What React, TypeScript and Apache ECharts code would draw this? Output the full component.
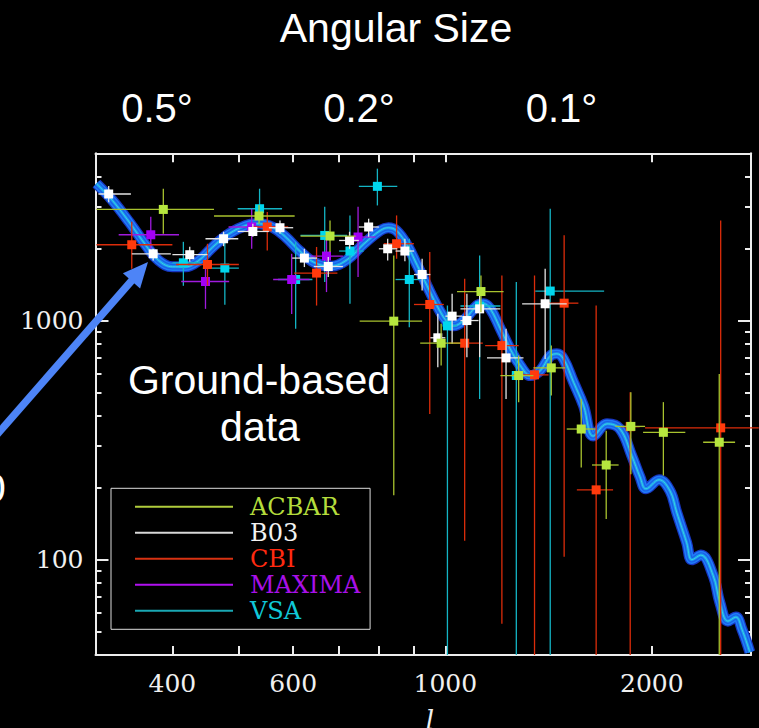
import React, { useEffect, useRef } from "react";
import * as echarts from "echarts";

// ---------- axis ranges & ticks ----------
const X_MIN = 309;
const X_MAX = 2790;
const Y_MIN = 40;
const Y_MAX = 5000;
const X_TICKS = [400, 500, 600, 700, 800, 900, 1000, 2000];
const X_LABELS = [400, 600, 1000, 2000];
const Y_MAJOR = [100, 1000];
const Y_MINOR = [50, 60, 70, 80, 90, 200, 300, 400, 500, 600, 700, 800, 900, 2000, 3000, 4000];

// ---------- theory curve ----------
const CURVE_L = [310, 327, 346, 366, 382, 400, 418, 437, 458, 484, 512, 535, 559, 585, 612, 643, 680, 719, 761, 804, 826, 849, 880, 910, 940, 972, 1006, 1028, 1063, 1112, 1137, 1163, 1203, 1243, 1286, 1330, 1375, 1422, 1454, 1487, 1538, 1590, 1643, 1721, 1798, 1870, 1922, 1961, 2049, 2126, 2174, 2248, 2288, 2358, 2458, 2513, 2582, 2652, 2706, 2779];
const CURVE_D = [3733, 3178, 2580, 2060, 1782, 1678, 1678, 1782, 2028, 2306, 2497, 2538, 2460, 2234, 1963, 1752, 1686, 1795, 2094, 2380, 2443, 2373, 2060, 1699, 1401, 1155, 985, 950, 1000, 1155, 1175, 1119, 923, 761, 648, 589, 618, 712, 726, 691, 552, 441, 329, 370, 352, 272, 222, 198, 216, 194, 158, 118, 100, 104.6, 85.7, 66.3, 55.4, 57.6, 51.3, 41.1];

// ---------- data points: [l, D, lMin, lMax, DMin, DMax] ----------
const ACBAR = [
  [388, 2913, 310, 460, 2306, 3556],
  [535, 2735, 460, 603, 2540, 3040],
  [679, 2255, 615, 740, 1932, 2620],
  [841, 994, 750, 925, 186, 1870],
  [986, 804, 919, 1052, 648, 969],
  [1127, 1322, 1040, 1216, 1084, 1543],
  [1279, 589, 1203, 1344, 455, 714],
  [1427, 634, 1344, 1496, 486, 786],
  [1578, 352, 1503, 1654, 243, 470],
  [1716, 249, 1636, 1789, 148, 346],
  [1864, 361, 1769, 1955, 228, 501],
  [2079, 341, 1942, 2238, 225, 456],
  [2508, 310, 2376, 2645, 40, 598],
];
const B03 = [
  [323, 3380, 312, 348, 3120, 3650],
  [375, 1901, 349, 398, 1782, 1995],
  [424, 1884, 400, 450, 1760, 2035],
  [475, 2197, 447, 499, 2045, 2350],
  [524, 2357, 498, 553, 2240, 2540],
  [574, 2443, 553, 600, 2304, 2620],
  [623, 1824, 598, 650, 1673, 1995],
  [675, 1682, 643, 709, 1522, 1843],
  [725, 2161, 700, 748, 1995, 2350],
  [773, 2460, 748, 800, 2240, 2664],
  [824, 1995, 800, 851, 1782, 2197],
  [873, 1952, 846, 900, 1770, 2197],
  [925, 1557, 900, 951, 1335, 1812],
  [975, 847, 951, 1000, 638, 1067],
  [1023, 1043, 1000, 1057, 799, 1294],
  [1075, 1000, 1052, 1118, 703, 1294],
  [1122, 1119, 1052, 1203, 703, 1315],
  [1226, 698, 1150, 1300, 470, 923],
  [1398, 1175, 1294, 1503, 691, 1646],
];
const CBI = [
  [349, 2074, 310, 400, 1646, 2585],
  [450, 1715, 405, 500, 1401, 2093],
  [550, 2460, 523, 590, 1960, 2840],
  [649, 1579, 602, 696, 1155, 2030],
  [849, 2094, 813, 900, 1812, 2750],
  [949, 1167, 900, 995, 407, 1935],
  [1067, 804, 1011, 1134, 120, 1495],
  [1209, 786, 1143, 1279, 54, 1543],
  [1349, 593, 1257, 1414, 40, 1543],
  [1490, 1182, 1407, 1563, 103, 2270],
  [1659, 196, 1555, 1756, 40, 1155],
  [1860, 360, 1800, 1920, 40, 501],
  [2520, 356, 1955, 2864, 40, 2620],
];
const MAXIMA = [
  [372, 2283, 334, 409, 1995, 2716],
  [447, 1456, 412, 484, 1119, 1758],
  [522, 2460, 483, 565, 1995, 2933],
  [597, 1484, 561, 634, 1066, 1901],
  [671, 1860, 636, 709, 1315, 2305],
  [746, 2234, 715, 791, 1522, 2987],
];
const VSA = [
  [415, 1743, 400, 440, 1397, 2133],
  [477, 1657, 443, 500, 1163, 2197],
  [536, 2933, 498, 578, 2497, 3556],
  [605, 1484, 570, 640, 923, 2133],
  [667, 2268, 615, 719, 1450, 2990],
  [726, 1952, 700, 760, 1174, 2750],
  [796, 3638, 748, 851, 3027, 4313],
  [886, 1484, 846, 920, 938, 2197],
  [1007, 950, 990, 1040, 40, 1155],
  [1122, 1150, 1052, 1203, 470, 1870],
  [1269, 589, 1245, 1295, 40, 1450],
  [1422, 1328, 1352, 1704, 40, 2933],
];

const LEGEND_NAMES = ["ACBAR", "B03", "CBI", "MAXIMA", "VSA"];

const STYLE: Record<string, { sq: string; bar: string; text: string; line: string }> = {
  ACBAR: { sq: "#b6e63e", bar: "#a8c22e", text: "#b4dc3c", line: "#b0cc3c" },
  B03: { sq: "#ffffff", bar: "#e4e4e4", text: "#f2f2f2", line: "#d8d8d8" },
  CBI: { sq: "#ff3a0c", bar: "#dc2c0a", text: "#ff2a10", line: "#d83212" },
  MAXIMA: { sq: "#a200f4", bar: "#a01ade", text: "#a810e8", line: "#b010f0" },
  VSA: { sq: "#00d6ee", bar: "#14b4c4", text: "#10c8d8", line: "#1aa8b4" },
};

const BAND = [
  { w: 11, c: "#1836c0" },
  { w: 8.5, c: "#1f7cf8" },
  { w: 5.5, c: "#1a60e6" },
  { w: 3, c: "#1f98f0" },
  { w: 1, c: "#36d6e2" },
];

const L10 = Math.log10;

function makeRender(sq: string, bar: string) {
  return (_params: any, api: any) => {
    const c = api.coord([api.value(0), api.value(1)]);
    const l = api.coord([api.value(2), api.value(1)]);
    const r = api.coord([api.value(3), api.value(1)]);
    const lo = api.coord([api.value(0), api.value(4)]);
    const hi = api.coord([api.value(0), api.value(5)]);
    const s = 9;
    return {
      type: "group",
      children: [
        { type: "line", shape: { x1: l[0], y1: c[1], x2: r[0], y2: c[1] }, style: { stroke: bar, lineWidth: 1.3 } },
        { type: "line", shape: { x1: c[0], y1: hi[1], x2: c[0], y2: lo[1] }, style: { stroke: bar, lineWidth: 1.3 } },
        { type: "rect", shape: { x: c[0] - s / 2, y: c[1] - s / 2, width: s, height: s }, style: { fill: sq } },
      ],
    };
  };
}

const AXIS_COLOR = "#ececec";

export default function App() {
  const ref = useRef<HTMLDivElement>(null);

  useEffect(() => {
    document.body.style.margin = "0";
    document.body.style.background = "#000";
    const chart = echarts.init(ref.current!, null, { renderer: "svg" });

    const fmt = (v: number) => String(Math.round(Math.pow(10, v)));
    const xAxisBase = (pos: "bottom" | "top", labels: boolean) => ({
      type: "value",
      position: pos,
      min: L10(X_MIN),
      max: L10(X_MAX),
      axisLine: { show: true, onZero: false, lineStyle: { color: AXIS_COLOR, width: 2 } },
      axisTick: { show: true, inside: true, length: 9, customValues: X_TICKS.map(L10), lineStyle: { color: AXIS_COLOR, width: 2 } },
      axisLabel: labels
        ? { show: true, customValues: X_LABELS.map(L10), formatter: fmt, color: "#f0f0f0", fontFamily: "DejaVu Serif", fontSize: 25, margin: 16 }
        : { show: false },
      splitLine: { show: false },
    });
    const yAxisBase = (pos: "left" | "right", vals: number[], len: number, labels: boolean, line: boolean) => ({
      type: "value",
      position: pos,
      min: L10(Y_MIN),
      max: L10(Y_MAX),
      axisLine: { show: line, onZero: false, lineStyle: { color: AXIS_COLOR, width: 2 } },
      axisTick: { show: true, inside: true, length: len, customValues: vals.map(L10), lineStyle: { color: AXIS_COLOR, width: 2 } },
      axisLabel: labels
        ? { show: true, customValues: vals.map(L10), formatter: fmt, color: "#f0f0f0", fontFamily: "DejaVu Serif", fontSize: 25, margin: 12 }
        : { show: false },
      splitLine: { show: false },
    });

    const curveData = CURVE_L.map((l, i) => [L10(l), L10(CURVE_D[i])]);
    const bandSeries = BAND.map((b, i) => ({
      type: "line",
      name: "model" + i,
      data: curveData,
      smooth: 0.4,
      showSymbol: false,
      silent: true,
      z: 1,
      lineStyle: { color: b.c, width: b.w },
    }));

    const sets: Record<string, number[][]> = { ACBAR, B03, CBI, MAXIMA, VSA };
    const drawOrder = ["VSA", "MAXIMA", "CBI", "B03", "ACBAR"];
    const pointSeries = drawOrder.map((name, i) => ({
      type: "custom",
      name,
      data: sets[name].map((p) => p.map(L10)),
      encode: { x: 0, y: 1 },
      renderItem: makeRender(STYLE[name].sq, STYLE[name].bar),
      z: 3 + i,
      silent: true,
    }));

    const arrowColor = "#4d84f7";
    const t = (text: string, x: number, y: number, font: string, extra: any = {}) => ({
      type: "text",
      x,
      y,
      z: 20,
      style: { text, fill: "#fff", font, align: "center", verticalAlign: "middle", textAlign: "center", textVerticalAlign: "middle", ...extra },
    });

    chart.setOption({
      animation: false,
      backgroundColor: "#000",
      grid: { left: 95.5, top: 153.3, right: 8, bottom: 73, containLabel: false, outerBoundsMode: "none" },
      xAxis: [xAxisBase("bottom", true), xAxisBase("top", false)],
      yAxis: [
        yAxisBase("left", Y_MAJOR, 13, true, true),
        yAxisBase("left", Y_MINOR, 6, false, false),
        yAxisBase("right", Y_MAJOR, 13, false, true),
        yAxisBase("right", Y_MINOR, 6, false, false),
      ],
      legend: {
        show: true,
        orient: "vertical",
        left: 111,
        top: 488.3,
        padding: [5.4, 9.7, 5.6, 24],
        itemWidth: 98,
        itemHeight: 2,
        itemGap: 0,
        selectedMode: false,
        borderColor: "#dcdcdc",
        borderWidth: 1,
        textStyle: { fontFamily: "DejaVu Serif", fontSize: 24, lineHeight: 26, padding: [0, 0, 0, 12] },
        data: LEGEND_NAMES.map((n) => ({
          name: n,
          icon: "rect",
          itemStyle: { color: STYLE[n].line },
          textStyle: { color: STYLE[n].text },
        })),
      },
      graphic: [
        t("Angular Size", 396, 27.5, "41px 'Liberation Sans'"),
        t("0.5°", 157, 108, "40px 'Liberation Sans'"),
        t("0.2°", 359, 108, "40px 'Liberation Sans'"),
        t("0.1°", 561.5, 108, "40px 'Liberation Sans'"),
        t("Ground-based", 259, 380, "41px 'Liberation Sans'"),
        t("data", 260, 427, "41px 'Liberation Sans'"),
        t("0", -17, 488, "41px 'Liberation Sans'", { align: "left", textAlign: "left" }),
        t("l", 430, 707, "italic 26px 'DejaVu Serif'", { fill: "#f0f0f0", verticalAlign: "top", textVerticalAlign: "top" }),
        { type: "line", z: 30, shape: { x1: -6, y1: 438, x2: 134, y2: 278 }, style: { stroke: arrowColor, lineWidth: 7.5 } },
        { type: "polygon", z: 30, shape: { points: [[148, 262], [122.9, 273.2], [140.1, 288.4]] }, style: { fill: arrowColor } },
      ],
      series: [...bandSeries, ...pointSeries],
    });

    return () => chart.dispose();
  }, []);

  return <div ref={ref} style={{ position: "fixed", left: 0, top: 0, width: 759, height: 728, background: "#000" }} />;
}
